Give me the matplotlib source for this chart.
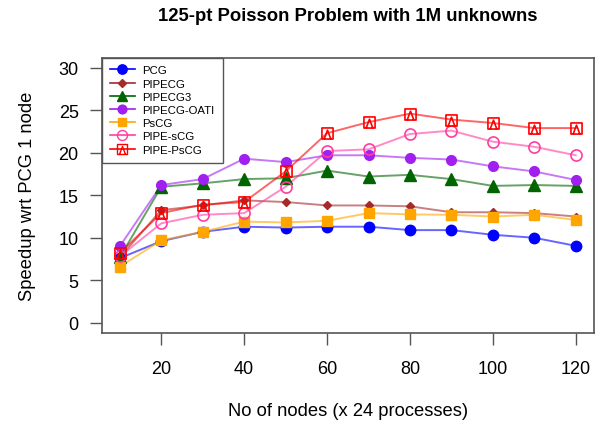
import numpy as np
import matplotlib
matplotlib.use("Agg")
import matplotlib.pyplot as plt
from matplotlib.path import Path
from matplotlib.lines import Line2D

nodes = [10, 20, 30, 40, 50, 60, 70, 80, 90, 100, 110, 120]

pcg = [7.6, 9.6, 10.7, 11.3, 11.2, 11.3, 11.3, 10.9, 10.9, 10.35, 10.0, 9.05]
pipecg = [7.7, 13.25, 13.8, 14.4, 14.2, 13.8, 13.8, 13.7, 13.0, 13.0, 12.9, 12.5]
pipecg3 = [7.7, 16.0, 16.4, 16.9, 17.0, 17.9, 17.2, 17.4, 16.9, 16.1, 16.2, 16.1]
pipecg_oati = [9.0, 16.2, 16.9, 19.3, 18.9, 19.7, 19.7, 19.4, 19.2, 18.4, 17.8, 16.8]
pscg = [6.6, 9.7, 10.7, 11.9, 11.8, 12.0, 12.9, 12.75, 12.7, 12.5, 12.7, 12.1]
pipe_scg = [7.8, 11.7, 12.7, 12.9, 16.0, 20.2, 20.4, 22.2, 22.6, 21.3, 20.7, 19.7]
pipe_pscg = [8.2, 12.9, 13.9, 14.2, 17.8, 22.3, 23.6, 24.6, 23.9, 23.5, 22.9, 22.9]

labels = ["PCG", "PIPECG", "PIPECG3", "PIPECG-OATI", "PsCG", "PIPE-sCG", "PIPE-PsCG"]

# square with a small inverted V inside (R pch 14 look-alike)
sq_tri = Path(
    [(-1, -1), (1, -1), (1, 1), (-1, 1), (-1, -1),
     (-0.6, -1), (0, 0.6), (0.6, -1)],
    [Path.MOVETO, Path.LINETO, Path.LINETO, Path.LINETO, Path.CLOSEPOLY,
     Path.MOVETO, Path.LINETO, Path.LINETO],
)

series = [
    (pcg, "#0000FF", "o", 7.5, True),
    (pipecg, "#A52A2A", "D", 4.5, True),
    (pipecg3, "#006400", "^", 8, True),
    (pipecg_oati, "#A020F0", "o", 7, True),
    (pscg, "#FFA500", "s", 7, True),
    (pipe_scg, "#FF3DA0", "o", 8, False),
    (pipe_pscg, "#FF0000", sq_tri, 8, False),
]

plt.rcParams["font.family"] = ["Liberation Sans", "DejaVu Sans"]

fig = plt.figure(figsize=(6.01, 4.27), dpi=100)
ax = fig.add_axes([101.6 / 601, 1 - 334 / 427, (594 - 101.6) / 601, (334 - 58.5) / 427])

handles = []
for (vals, col, mk, ms, filled), lab in zip(series, labels):
    ax.plot(nodes, vals, color=col, lw=1.4, alpha=0.6, zorder=2)
    if filled:
        ax.plot(nodes, vals, ls="none", marker=mk, ms=ms, color=col, mec=col, zorder=3)
    else:
        ax.plot(nodes, vals, ls="none", marker=mk, ms=ms, mfc="none", mec=col, mew=1.2, zorder=3)
    handles.append(Line2D([], [], color=col, lw=1.2, marker=mk, ms=ms * 0.9,
                          mfc=col if filled else "none", mec=col, label=lab))

ax.set_xlim(5.6, 124.4)
ax.set_ylim(-1.2, 31.2)
ax.set_xticks([20, 40, 60, 80, 100, 120])
ax.set_yticks([0, 5, 10, 15, 20, 25, 30])
ax.tick_params(length=8.5, width=1, color="#555555", labelsize=13)
ax.tick_params(axis="x", pad=11)
ax.tick_params(axis="y", pad=8)
for s in ax.spines.values():
    s.set_color("#555555")
    s.set_linewidth(1.2)

ax.set_title("125-pt Poisson Problem with 1M unknowns", fontsize=13.3,
             fontweight="bold", pad=27)
ax.set_xlabel("No of nodes (x 24 processes)", fontsize=13.2, labelpad=18)
ax.set_ylabel("Speedup wrt PCG 1 node", fontsize=13.2, labelpad=16)

leg = ax.legend(handles=handles, loc="upper left", fontsize=8.2, frameon=True,
                fancybox=False, framealpha=1, edgecolor="#555555",
                borderaxespad=0, handlelength=2.2, labelspacing=0.28,
                borderpad=0.7, handletextpad=0.7)
leg.get_frame().set_linewidth(1.0)

fig.savefig("out.png", dpi=100)
